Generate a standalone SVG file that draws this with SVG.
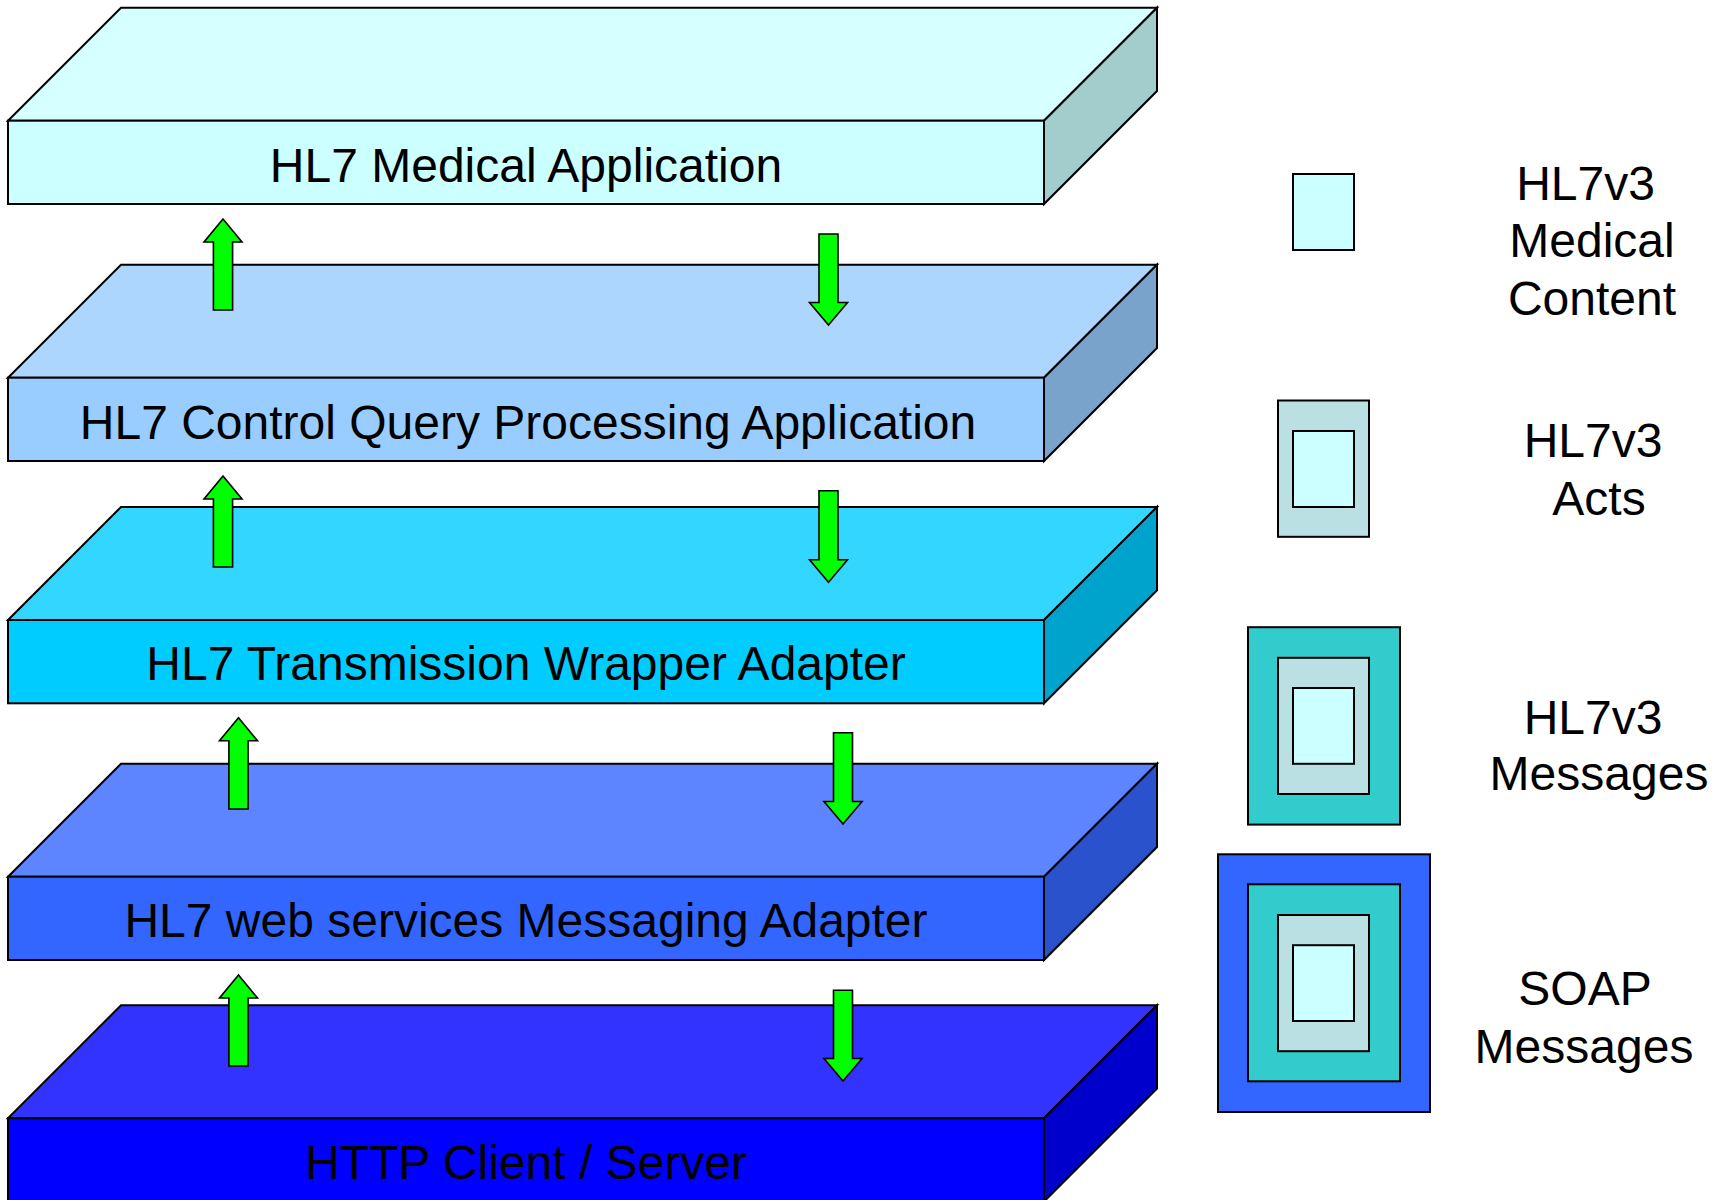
<svg xmlns="http://www.w3.org/2000/svg" width="1727" height="1200" viewBox="0 0 1727 1200">
<style>
.e{stroke:#000;stroke-width:2;stroke-linejoin:miter}
.t{font-family:"Liberation Sans",Arial,sans-serif;font-size:48px;fill:#000;text-anchor:middle}
.ar{fill:#00FF00;stroke:#000;stroke-width:1.6;stroke-linejoin:miter}
</style>
<rect width="1727" height="1200" fill="#fff"/>
<g id="layer-medical">
<polygon class="e" fill="#D6FFFF" points="8,120.7 121,7.7 1157,7.7 1044,120.7"/>
<polygon class="e" fill="#A3CCCC" points="1044,120.7 1157,7.7 1157,91 1044,204"/>
<rect class="e" fill="#CCFFFF" x="8" y="120.7" width="1036" height="83.3"/>
<text class="t" x="526" y="181.7">HL7 Medical Application</text>
</g>
<g id="layer-control">
<polygon class="e" fill="#ADD6FF" points="8,377.7 121,264.7 1157,264.7 1044,377.7"/>
<polygon class="e" fill="#7AA3CC" points="1044,377.7 1157,264.7 1157,348 1044,461"/>
<rect class="e" fill="#99CCFF" x="8" y="377.7" width="1036" height="83.3"/>
<text class="t" x="528" y="439.3">HL7 Control Query Processing Application</text>
</g>
<g id="layer-transmission">
<polygon class="e" fill="#33D6FF" points="8,620 121,507 1157,507 1044,620"/>
<polygon class="e" fill="#00A3CC" points="1044,620 1157,507 1157,590.3 1044,703.3"/>
<rect class="e" fill="#00CCFF" x="8" y="620" width="1036" height="83.3"/>
<text class="t" x="526" y="680">HL7 Transmission Wrapper Adapter</text>
</g>
<g id="layer-webservices">
<polygon class="e" fill="#5C85FF" points="8,876.7 121,763.7 1157,763.7 1044,876.7"/>
<polygon class="e" fill="#2952CC" points="1044,876.7 1157,763.7 1157,847 1044,960"/>
<rect class="e" fill="#3366FF" x="8" y="876.7" width="1036" height="83.3"/>
<text class="t" x="526" y="936.7">HL7 web services Messaging Adapter</text>
</g>
<g id="layer-http">
<polygon class="e" fill="#3333FF" points="8,1118.3 121,1005.3 1157,1005.3 1044,1118.3"/>
<polygon class="e" fill="#0000CC" points="1044,1118.3 1157,1005.3 1157,1088.6 1044,1201.6"/>
<rect class="e" fill="#0000FF" x="8" y="1118.3" width="1036" height="83.3"/>
<text class="t" x="526" y="1179">HTTP Client / Server</text>
</g>
<g id="connectors">
<polygon class="ar" points="223,219 242,242 232.6,242 232.6,310 213.4,310 213.4,242 204,242"/>
<polygon class="ar" points="223,476 242,499 232.6,499 232.6,567 213.4,567 213.4,499 204,499"/>
<polygon class="ar" points="238.5,717.7 257.5,740.7 248.1,740.7 248.1,809 228.9,809 228.9,740.7 219.5,740.7"/>
<polygon class="ar" points="238.5,975 257.5,998 248.1,998 248.1,1066 228.9,1066 228.9,998 219.5,998"/>
<polygon class="ar" points="819,234 838,234 838,302.5 847.5,302.5 828.5,325 809.5,302.5 819,302.5"/>
<polygon class="ar" points="819,490.7 838,490.7 838,559.8 847.5,559.8 828.5,582.3 809.5,559.8 819,559.8"/>
<polygon class="ar" points="833.5,732.7 852.5,732.7 852.5,801.5 862,801.5 843,824 824,801.5 833.5,801.5"/>
<polygon class="ar" points="833.5,990.3 852.5,990.3 852.5,1058.5 862,1058.5 843,1081 824,1058.5 833.5,1058.5"/>
</g>
<g id="legend-content">
<rect class="e" fill="#CCFFFF" x="1293" y="174" width="61" height="76"/>
<text class="t" x="1585.5" y="199.8">HL7v3</text>
<text class="t" x="1592" y="257.2">Medical</text>
<text class="t" x="1592" y="314.6">Content</text>
</g>
<g id="legend-acts">
<rect class="e" fill="#BBE0E3" x="1278" y="400.5" width="91" height="136.3"/>
<rect class="e" fill="#CCFFFF" x="1293" y="431" width="61" height="76"/>
<text class="t" x="1593" y="457.3">HL7v3</text>
<text class="t" x="1599" y="514.7">Acts</text>
</g>
<g id="legend-messages">
<rect class="e" fill="#33CCCC" x="1248" y="627.2" width="152" height="197.4"/>
<rect class="e" fill="#BBE0E3" x="1278" y="657.8" width="91" height="136.2"/>
<rect class="e" fill="#CCFFFF" x="1293" y="688" width="61" height="75.8"/>
<text class="t" x="1593" y="733.9">HL7v3</text>
<text class="t" x="1599" y="790.2">Messages</text>
</g>
<g id="legend-soap">
<rect class="e" fill="#3366FF" x="1218" y="854.3" width="212" height="257.7"/>
<rect class="e" fill="#33CCCC" x="1248" y="884.3" width="152" height="197"/>
<rect class="e" fill="#BBE0E3" x="1278" y="915" width="91" height="136.2"/>
<rect class="e" fill="#CCFFFF" x="1293" y="945.2" width="61" height="75.8"/>
<text class="t" x="1585" y="1004.9">SOAP</text>
<text class="t" x="1584" y="1063">Messages</text>
</g>
</svg>
